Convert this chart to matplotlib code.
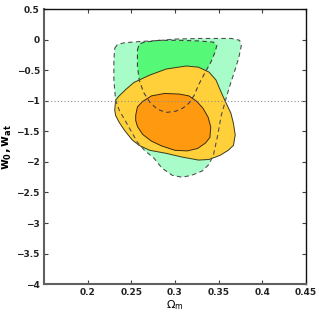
import matplotlib
matplotlib.use("Agg")
import matplotlib.pyplot as plt
from matplotlib.patches import Polygon

# Contour outlines (Omega_m, w)
outer_green_om = [0.231, 0.234, 0.242, 0.260, 0.285, 0.300, 0.330, 0.365, 0.374, 0.376, 0.373, 0.368, 0.362,
                  0.358, 0.353, 0.349, 0.344, 0.339, 0.331, 0.319, 0.308, 0.297, 0.285, 0.276, 0.265,
                  0.257, 0.246, 0.236, 0.232, 0.230, 0.230]
outer_green_w = [-0.14, -0.08, -0.05, -0.03, -0.01, 0.01, 0.02, 0.02, -0.01, -0.10, -0.30, -0.53, -0.79,
                 -0.99, -1.24, -1.56, -1.89, -2.04, -2.15, -2.22, -2.25, -2.22, -2.10, -1.94, -1.81,
                 -1.68, -1.40, -1.15, -0.99, -0.66, -0.34]

inner_green_om = [0.257, 0.259, 0.265, 0.282, 0.305, 0.327, 0.344, 0.348, 0.346, 0.341, 0.334,
                  0.327, 0.322, 0.316, 0.309, 0.301, 0.290, 0.280, 0.271, 0.264, 0.259, 0.257]
inner_green_w = [-0.17, -0.07, -0.04, -0.01, -0.01, -0.02, -0.04, -0.09, -0.20, -0.37, -0.55,
                 -0.74, -0.91, -1.04, -1.12, -1.17, -1.19, -1.14, -1.02, -0.86, -0.66, -0.43]

yellow_om = [0.231, 0.232, 0.236, 0.244, 0.253, 0.271, 0.290, 0.313, 0.327, 0.339, 0.347, 0.352,
             0.358, 0.364, 0.367, 0.369, 0.367, 0.361, 0.352, 0.339, 0.327, 0.308, 0.290, 0.271,
             0.259, 0.251, 0.242, 0.236, 0.232]
yellow_w = [-1.15, -0.99, -0.92, -0.81, -0.70, -0.58, -0.48, -0.43, -0.45, -0.53, -0.66, -0.83,
            -1.02, -1.20, -1.37, -1.56, -1.73, -1.81, -1.89, -1.96, -1.97, -1.92, -1.86, -1.81,
            -1.73, -1.64, -1.48, -1.35, -1.24]

orange_om = [0.255, 0.257, 0.263, 0.273, 0.288, 0.305, 0.316, 0.325, 0.332, 0.338, 0.341, 0.340,
             0.335, 0.326, 0.314, 0.300, 0.285, 0.273, 0.263, 0.257, 0.255]
orange_w = [-1.24, -1.10, -1.01, -0.92, -0.88, -0.89, -0.92, -1.01, -1.12, -1.27, -1.43, -1.60,
            -1.69, -1.78, -1.82, -1.81, -1.74, -1.66, -1.55, -1.42, -1.32]

w_ref = -1.0
xticks = [0.2, 0.25, 0.3, 0.35, 0.4, 0.45]
yticks = [0.5, 0, -0.5, -1, -1.5, -2, -2.5, -3, -3.5, -4]

fig = plt.figure(figsize=(3.19, 3.15), dpi=100)
ax = fig.add_axes([0.138, 0.098, 0.821, 0.873])

def poly(xs, ys, **kw):
    return Polygon(list(zip(xs, ys)), closed=True, **kw)

ax.add_patch(poly(outer_green_om, outer_green_w, facecolor='#a8fcc8', edgecolor='none', zorder=1))
ax.add_patch(poly(inner_green_om, inner_green_w, facecolor='#56f878', edgecolor='none', zorder=2))
ax.add_patch(poly(yellow_om, yellow_w, facecolor='#ffd03a', edgecolor='#3a3a1a', lw=0.7, zorder=3))
ax.add_patch(poly(orange_om, orange_w, facecolor='#ff9a10', edgecolor='#3a2a10', lw=0.7, zorder=4))
ax.add_patch(poly(outer_green_om, outer_green_w, facecolor='none', edgecolor='#505050', lw=0.8,
                  linestyle=(0, (4, 3)), zorder=5))
ax.add_patch(poly(inner_green_om, inner_green_w, facecolor='none', edgecolor='#404040', lw=0.8,
                  linestyle=(0, (4, 3)), zorder=5))

ax.axhline(w_ref, color='#909090', lw=0.8, linestyle=(0, (1, 2)), zorder=6)

ax.set_xlim(0.15, 0.45)
ax.set_ylim(-4, 0.5)
ax.set_xticks(xticks)
ax.set_xticklabels(['0.2', '0.25', '0.3', '0.35', '0.4', '0.45'])
ax.set_yticks(yticks)
ax.set_yticklabels(['0.5', '0', '\u22120.5', '\u22121', '\u22121.5', '\u22122', '\u22122.5',
                    '\u22123', '\u22123.5', '\u22124'])
ax.tick_params(direction='in', top=True, right=True, length=3, width=0.8, color='#404040',
               labelsize=6.5, pad=3)
for lab in ax.get_xticklabels() + ax.get_yticklabels():
    lab.set_fontweight('bold')
    lab.set_color('#222222')
for side in ['left', 'bottom']:
    ax.spines[side].set_color('#606060')
    ax.spines[side].set_linewidth(1.5)
for side in ['top', 'right']:
    ax.spines[side].set_color('#111111')
    ax.spines[side].set_linewidth(1.0)

ax.set_xlabel(r'$\Omega_{\mathrm{m}}$', fontsize=8, labelpad=1)
ax.set_ylabel(r'$\mathbf{w_0,w_{at}}$', fontsize=8.5, labelpad=2)

fig.savefig('out.png', dpi=100)
